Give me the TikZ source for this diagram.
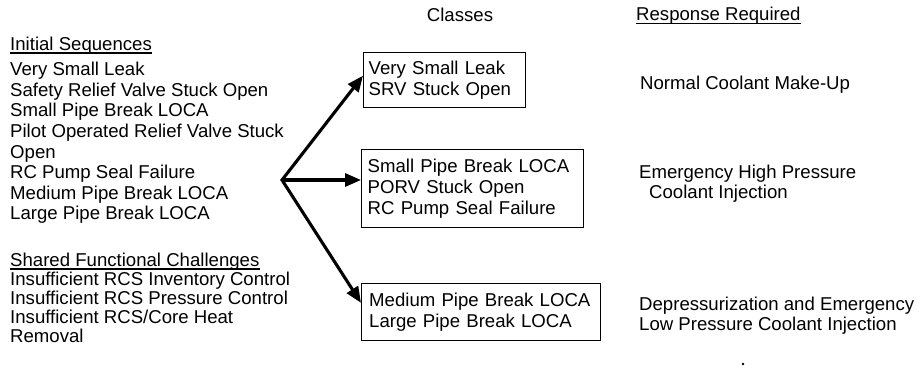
\documentclass[tikz,border=0pt]{standalone}
\usepackage{fontspec}
\setmainfont{Liberation Sans}
\usetikzlibrary{arrows.meta,calc}
\begin{document}
\begin{tikzpicture}[x=1pt,y=-1pt,
  txt/.style={anchor=base west, inner sep=0pt, font=\fontsize{18.6}{20.6}\selectfont},
  title/.style={anchor=base, inner sep=0pt, font=\fontsize{18.6}{20.6}\selectfont},
  classbox/.style={draw, line width=1.4pt, anchor=north west, align=left,
    inner ysep=0pt, font=\fontsize{18.6}{20.6}\selectfont},
  uline/.style={line width=1.3pt},
  flow/.style={line width=3.1pt, line join=miter,
    -{Triangle[length=16pt,width=13pt]}},
  flowboth/.style={line width=3.1pt, line join=miter,
    {Triangle[length=16pt,width=13pt]}-{Triangle[length=16pt,width=13pt]}}
]
\useasboundingbox (0,0) rectangle (920,367);

% column headings
\node[title] (hclass) at (460,21) {Classes};
\node[txt] (hresp) at (636,20) {Response Required};
\draw[uline] ([yshift=-3.5pt]hresp.base west) -- ([yshift=-3.5pt]hresp.base east);

% initial sequences
\node[txt] (hinit) at (10,50) {Initial Sequences};
\draw[uline] ([yshift=-3pt]hinit.base west) -- ([yshift=-3pt]hinit.base east);
\node[txt] (s1) at (10,75.5)  {Very Small Leak};
\node[txt] (s2) at (10,96)    {Safety Relief Valve Stuck Open};
\node[txt] (s3) at (10,116.5) {Small Pipe Break LOCA};
\node[txt] (s4) at (10,137)   {Pilot Operated Relief Valve Stuck};
\node[txt] (s5) at (10,158)   {Open};
\node[txt] (s6) at (10,178.5) {RC Pump Seal Failure};
\node[txt] (s7) at (10,199)   {Medium Pipe Break LOCA};
\node[txt] (s8) at (10,219.5) {Large Pipe Break LOCA};

% shared functional challenges
\node[txt] (hshared) at (10,266) {Shared Functional Challenges};
\draw[uline] ([yshift=-3pt]hshared.base west) -- ([yshift=-3pt]hshared.base east);
\node[txt] (c1) at (10,285.5) {Insufficient RCS Inventory Control};
\node[txt] (c2) at (10,304.5) {Insufficient RCS Pressure Control};
\node[txt] (c3) at (10,323.5) {Insufficient RCS/Core Heat};
\node[txt] (c4) at (10,342.5) {Removal};

% class boxes
\node[classbox, inner xsep=4pt, text width=152pt, minimum width=162pt, minimum height=55pt]
  (b1) at (363,52) {Very Small Leak\\SRV Stuck Open};
\node[classbox, inner xsep=5pt, text width=210pt, minimum width=222pt, minimum height=78pt]
  (b2) at (361,149) {Small Pipe Break LOCA\\PORV Stuck Open\\RC Pump Seal Failure};
\node[classbox, inner xsep=7pt, text width=224pt, minimum width=239pt, minimum height=57pt]
  (b3) at (361,283) {Medium Pipe Break LOCA\\Large Pipe Break LOCA};

% branching arrows
\coordinate (o) at (282,180);
\coordinate (t1) at ($(b1.north west)!0.42!(b1.south west)$);
\coordinate (t3) at ($(b3.north west)!0.34!(b3.south west)$);
\draw[flowboth] (t1) -- (o) -- (t3);
\draw[flow] (o) -- (o -| b2.west);

% required responses
\node[txt] (r1) at (640,89) {Normal Coolant Make-Up};
\node[txt] (r2a) at (639,178) {Emergency High Pressure};
\node[txt] (r2b) at (649,198) {Coolant Injection};
\node[txt] (r3a) at (639,310) {Depressurization and Emergency};
\node[txt] (r3b) at (639,330) {Low Pressure Coolant Injection};

% stray mark
\fill (743,364) circle (1.3pt);
\end{tikzpicture}
\end{document}
